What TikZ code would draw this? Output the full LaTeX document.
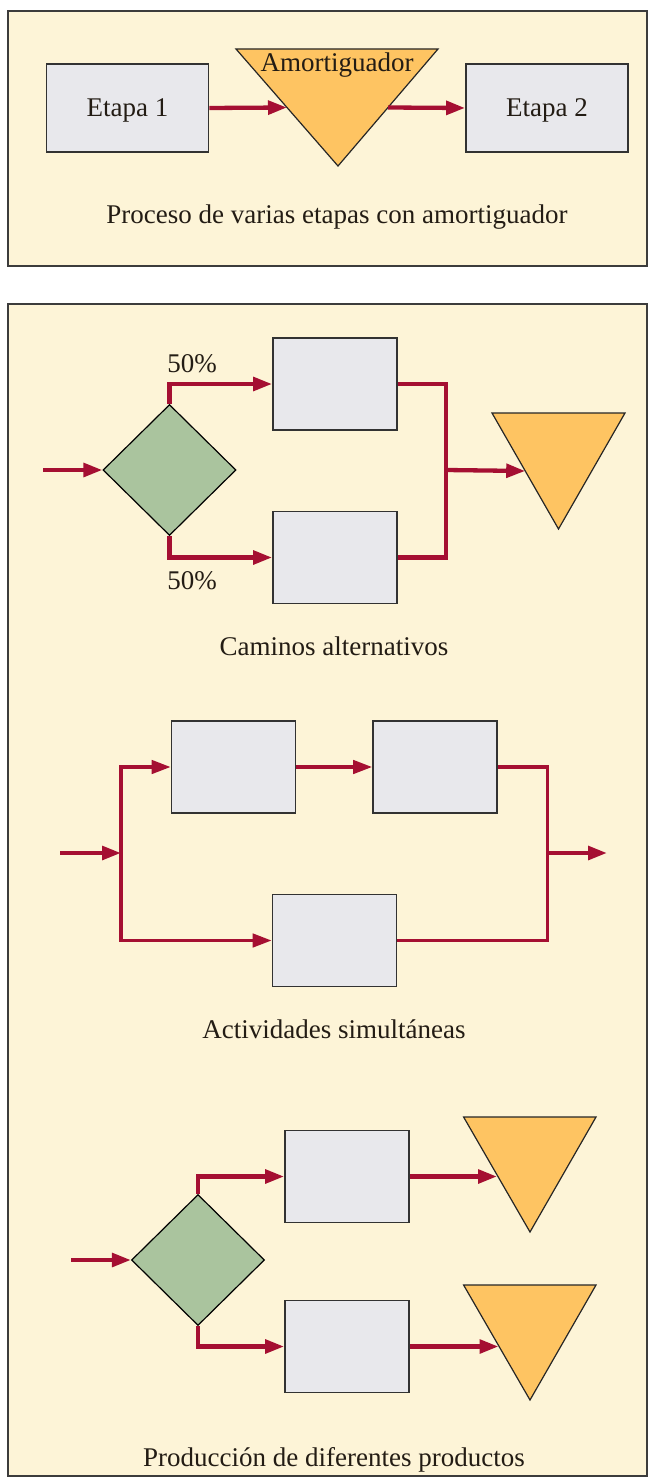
\documentclass[tikz,border=0pt]{standalone}
\usepackage{fontspec}
\setmainfont{Liberation Serif}
\usetikzlibrary{arrows.meta,shapes.geometric}

\definecolor{panelfill}{RGB}{253,244,215}
\definecolor{panelline}{RGB}{60,60,60}
\definecolor{boxfill}{RGB}{232,232,236}
\definecolor{boxline}{RGB}{50,50,50}
\definecolor{diafill}{RGB}{170,196,158}
\definecolor{trifill}{RGB}{254,196,98}
\definecolor{flowred}{RGB}{165,15,50}
\definecolor{inktext}{RGB}{35,28,20}

\tikzset{
  panel/.style={fill=panelfill, draw=panelline, line width=1.6pt},
  stagebox/.style={rectangle, fill=boxfill, draw=boxline, line width=1.8pt,
    minimum width=124pt, minimum height=92pt, inner sep=0pt, text depth=0pt},
  bigbox/.style={stagebox, minimum width=162pt, minimum height=88pt},
  decision/.style={diamond, fill=diafill, draw=black, line width=1.2pt,
    minimum width=133pt, minimum height=131pt, inner sep=0pt},
  buffer/.style={fill=trifill, draw=black!85, line width=1.2pt, line join=miter},
  wire/.style={draw=flowred, line width=4.3pt},
  flow/.style={wire, -{Triangle[length=19pt,width=13.5pt]}},
  thinwire/.style={draw=flowred, line width=3.2pt},
  thinflow/.style={thinwire, -{Triangle[length=19pt,width=13.5pt]}},
  txt/.style={text=inktext, inner sep=0pt, font=\fontsize{27}{32}\selectfont},
}

\begin{document}
\begin{tikzpicture}[x=1pt, y=-1pt, every node/.style={text=inktext, font=\fontsize{27}{32}\selectfont}]
\useasboundingbox (0,0) rectangle (648,1482);

% ---------- top panel: multi-stage process with buffer ----------
\draw[panel] (8,11) rectangle (647,266);
\node[bigbox] (e1) at (127.5,108) {Etapa 1};
\node[bigbox] (e2) at (547,108) {Etapa 2};
\draw[buffer] (236,49) -- (438,49) -- (338,166) -- cycle;
\coordinate (bufin)  at (287,107.5);
\coordinate (bufout) at (388,107.5);
\node[txt, anchor=base] (buflabel) at (337,72) {Amortiguador};
\draw[flow] (e1.east) -- (bufin);
\draw[flow] (bufout) -- (e2.west);
\node[txt, anchor=base] (cap1) at (337,223) {Proceso de varias etapas con amortiguador};

% ---------- lower panel ----------
\draw[panel] (8,304) rectangle (647,1476);

% alternative paths
\node[decision] (d1) at (169.5,470) {};
\node[stagebox] (a1) at (335,384) {};
\node[stagebox] (a2) at (335,557.5) {};
\draw[buffer] (492,413) -- (625,413) -- (558.5,529) -- cycle;
\coordinate (in1) at (43,470);
\coordinate (j1) at (446,470);
\coordinate (t1in) at (525.2,471);
\draw[flow] (in1) -- (d1.west);
\draw[flow, line join=miter] (d1.north) |- (a1.west);
\draw[flow, line join=miter] (d1.south) |- (a2.west);
\draw[wire, line join=miter] (a1.east) -| (j1) |- (a2.east);
\draw[flow] (j1) -- (t1in);
\node[txt, anchor=base] (p1) at (192,372) {50\%};
\node[txt, anchor=base] (p2) at (192,589) {50\%};
\node[txt, anchor=base] (cap2) at (334,655) {Caminos alternativos};

% simultaneous activities
\node[stagebox] (s1) at (233.5,767) {};
\node[stagebox] (s2) at (435,767) {};
\node[stagebox] (s3) at (334.5,940.5) {};
\coordinate (in2) at (60,853);
\coordinate (split) at (121,853);
\coordinate (join) at (547.5,853);
\coordinate (out2) at (607,853);
\draw[flow] (in2) -- (split);
\draw[thinflow, line join=miter] (split) |- (s1.west);
\draw[thinflow, line join=miter] (split) |- (s3.west);
\draw[thinflow] (s1.east) -- (s2.west);
\draw[thinwire, line join=miter] (s2.east) -| (join) |- (s3.east);
\draw[flow] (join) -- (out2);
\node[txt, anchor=base] (cap3) at (334,1038) {Actividades simultáneas};

% different products
\node[decision] (d3) at (198,1260) {};
\node[stagebox] (c1) at (347,1176.5) {};
\node[stagebox] (c2) at (347,1346.5) {};
\draw[buffer] (463.6,1117) -- (596,1117) -- (530,1232) -- cycle;
\draw[buffer] (463.6,1285) -- (596,1285) -- (530,1400) -- cycle;
\coordinate (in3) at (71,1260);
\coordinate (t3a) at (497,1176.5);
\coordinate (t3b) at (498.5,1346.5);
\draw[flow] (in3) -- (d3.west);
\draw[flow, line join=miter] (d3.north) |- (c1.west);
\draw[flow, line join=miter] (d3.south) |- (c2.west);
\draw[flow] (c1.east) -- (t3a);
\draw[flow] (c2.east) -- (t3b);
\node[txt, anchor=base] (cap4) at (334,1466) {Producción de diferentes productos};
\end{tikzpicture}
\end{document}
